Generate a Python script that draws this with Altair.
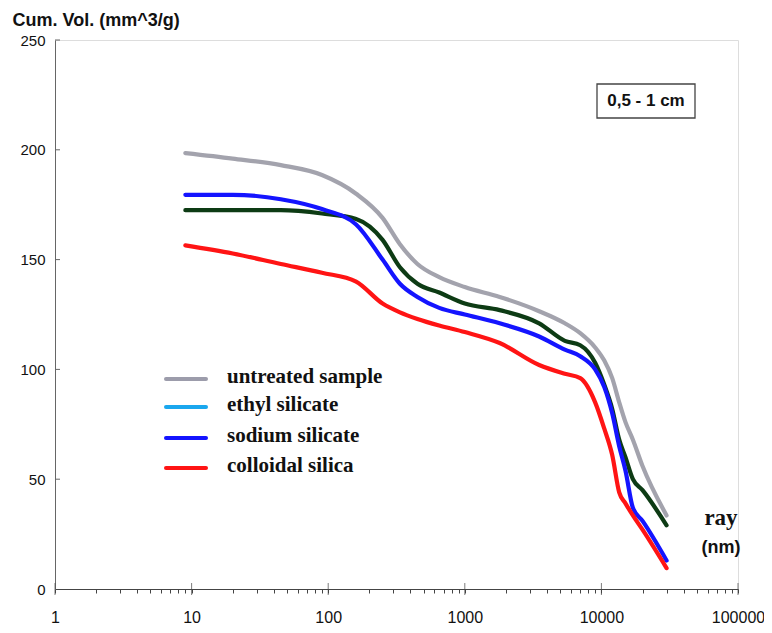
import altair as alt
import pandas as pd

# ---- data ----
ray_nm = [9, 20, 45, 90, 160, 250, 335, 450, 650, 1000, 1800, 3500, 5400, 7000,
          9000, 10500, 12000, 13500, 15000, 17000, 20000, 30000]
untreated = [198.5, 196, 193, 188.5, 180, 169, 157, 148, 142, 137.5, 133, 126.5, 121, 116.5,
             110, 104, 96, 85, 76, 68, 56, 33.5]
ethyl = [172.5, 172.5, 172.5, 171, 168.5, 159, 146.5, 139, 135, 130, 127, 121, 113, 111,
         103, 93, 82, 68, 60, 50, 45, 29]
sodium = [179.5, 179.5, 177.5, 173, 166, 150, 139, 133, 128, 125, 121, 115, 109, 106,
          100, 92, 80, 65, 54, 37, 31, 13]
colloidal = [156.5, 152.8, 148, 144, 140, 130, 126, 123, 120, 117, 112, 102, 98, 96,
             85, 73, 61, 44, 39, 33.5, 27, 9.5]

series_names = ["untreated sample", "ethyl silicate", "sodium silicate", "colloidal silica"]
line_colors = ["#a3a3ad", "#0d3b14", "#1414ff", "#ff1414"]
legend_colors = ["#9c9cab", "#1aa7ee", "#1414ff", "#ff1414"]
x_ticks_major = [1, 10, 100, 1000, 10000, 100000]
y_ticks = [50, 100, 150, 200, 250]

rows = []
for name, vals in zip(series_names, [untreated, ethyl, sodium, colloidal]):
    for xv, yv in zip(ray_nm, vals):
        rows.append({"series": name, "ray": xv, "vol": yv})
df = pd.DataFrame(rows)

minor_ticks = []
for d in [1, 10, 100, 1000, 10000]:
    for m in range(1, 10):
        minor_ticks.append(d * m)
minor_ticks.append(100000)

W, H = 683, 549

xscale = alt.Scale(type="log", domain=[1, 100000], nice=False)
yscale = alt.Scale(domain=[0, 250], nice=False)

base = alt.Chart(df)

lines = base.mark_line(strokeWidth=4.2, interpolate="monotone", strokeCap="round").encode(
    x=alt.X("ray:Q", scale=xscale,
            axis=alt.Axis(values=minor_ticks, title=None, grid=False,
                          labelExpr="indexof(['1','10','100','1000','10000','100000'], datum.label) >= 0 ? datum.label : ''",
                          format="d", labelOverlap=False, labelFlush=False,
                          tickSize=4, tickColor="#444", domainColor="#444",
                          labelFont="Liberation Sans", labelFontSize=16, labelColor="#111",
                          labelPadding=16)),
    y=alt.Y("vol:Q", scale=yscale,
            axis=alt.Axis(values=[0] + y_ticks, ticks=False, grid=False,
                          title="Cum. Vol. (mm^3/g)", titleAngle=0, titleAlign="left",
                          titleBaseline="alphabetic", titleX=-43, titleY=-15,
                          titleFont="Liberation Sans", titleFontSize=18, titleFontWeight="bold",
                          titleColor="#111", domainColor="#666",
                          labelFont="Liberation Sans", labelFontSize=15, labelColor="#111",
                          labelPadding=10)),
    color=alt.Color("series:N", scale=alt.Scale(domain=series_names, range=line_colors), legend=None),
    detail="series:N",
)

major_df = pd.DataFrame({"ray": x_ticks_major, "vol": [0] * len(x_ticks_major)})
major_ticks = alt.Chart(major_df).mark_tick(size=12, thickness=1, color="#444", orient="vertical").encode(
    x=alt.X("ray:Q", scale=xscale),
    y=alt.Y("vol:Q", scale=yscale),
)

ytick_df = pd.DataFrame({"vol": y_ticks})
yticks = alt.Chart(ytick_df).mark_rule(color="#666", strokeWidth=1).encode(
    x=alt.value(0), x2=alt.value(5), y=alt.Y("vol:Q", scale=yscale)
)

layers = [lines, major_ticks, yticks]

# manual legend (as in the reference)
leg_y = [339, 367, 398, 428]
for name, col, yy in zip(series_names, legend_colors, leg_y):
    ldf = pd.DataFrame({"label": [name]})
    layers.append(alt.Chart(ldf).mark_rule(color=col, strokeWidth=4, strokeCap="round").encode(
        x=alt.value(111), x2=alt.value(151), y=alt.value(yy)))
    layers.append(alt.Chart(ldf).mark_text(align="left", baseline="middle", font="Liberation Serif",
                                           fontSize=21, fontWeight="bold", color="#111").encode(
        x=alt.value(172), y=alt.value(yy - 2), text="label:N"))

# box annotation
box_df = pd.DataFrame({"t": ["0,5 - 1 cm"]})
layers.append(alt.Chart(box_df).mark_rect(fill="white", stroke="#444", strokeWidth=1.3).encode(
    x=alt.value(542), x2=alt.value(640), y=alt.value(44), y2=alt.value(78)))
layers.append(alt.Chart(box_df).mark_text(font="Liberation Sans", fontSize=17, fontWeight="bold",
                                          color="#111", baseline="middle").encode(
    x=alt.value(591), y=alt.value(61), text="t:N"))

# axis caption
cap_df = pd.DataFrame({"a": ["ray"], "b": ["(nm)"]})
layers.append(alt.Chart(cap_df).mark_text(font="Liberation Serif", fontSize=23, fontWeight="bold",
                                          color="#111", baseline="middle").encode(
    x=alt.value(666), y=alt.value(478), text="a:N"))
layers.append(alt.Chart(cap_df).mark_text(font="Liberation Sans", fontSize=18, fontWeight="bold",
                                          color="#111", baseline="middle").encode(
    x=alt.value(666), y=alt.value(508), text="b:N"))

chart = alt.layer(*layers).properties(
    width=W, height=H,
    autosize=alt.AutoSizeParams(type="none"),
    padding={"left": 47, "top": 32, "right": 26, "bottom": 36},
).configure_view(stroke=None).configure(background="white")

chart.save("out.html", embed_options={"renderer": "svg", "actions": False})
